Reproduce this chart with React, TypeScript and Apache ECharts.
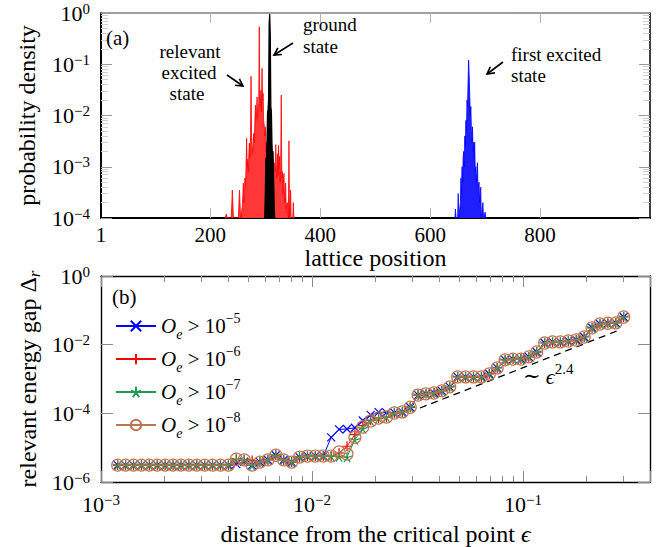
import React, { useEffect, useRef } from 'react';
import * as echarts from 'echarts';

const SERIF = "'Liberation Serif', 'DejaVu Serif', serif";

// ---------- panel (a): probability density vs lattice position ----------
const latticeLabelValues = [1, 200, 400, 600, 800];
const latticeTickValues = [200, 400, 600, 800];

const redState: [number, number][] = [
  [227, 1e-4], [229, 1.2e-4], [231, 1e-4],
  [238, 1e-4], [240, 3.5e-4], [242, 1e-4],
  [251, 1e-4], [253, 3.5e-4], [255, 1e-4],
  [258, 1.6e-4], [259, 2.5e-4], [260, 4.8e-4], [261, 2e-4], [262, 3e-4], [263, 6e-4], [264, 4e-4],
  [265, 1.2e-3], [266, 3.6e-3], [267, 1e-3], [268, 1.4e-3], [269, 8e-4], [270, 1.8e-3], [271, 2.9e-3],
  [272, 1.5e-3], [273, 3e-3], [274, 5.8e-2], [275, 4e-3], [276, 2.5e-3], [277, 1.8e-3], [278, 3e-3],
  [279, 4.5e-3], [280, 3e-3], [281, 8e-3], [282, 1.6e-2], [283, 8e-3], [284, 1.2e-2], [285, 2.3e-2],
  [286, 9e-3], [287, 1.3e-2], [288, 1.8e-2], [289, 0.54], [290, 1.5e-2], [291, 1.7e-2], [292, 3.1e-2],
  [293, 1.2e-2], [294, 8.3e-2], [295, 2e-2], [296, 2.7e-2], [297, 8e-3], [298, 6.5e-3], [299, 4e-3],
  [300, 6e-3], [301, 2e-3], [302, 3e-3], [303, 1.2e-3], [304, 2e-3], [306, 1.5e-3], [308, 2e-3],
  [310, 1e-3], [312, 1.5e-3], [314, 8e-4], [316, 1.2e-3], [318, 8e-4], [319, 2.7e-3], [320, 1e-3],
  [321, 6e-4], [322, 1.8e-3], [323, 7e-4], [324, 2.6e-3], [325, 9e-4], [326, 1.6e-3], [327, 5e-4],
  [328, 1e-3], [329, 2.5e-2], [330, 6e-4], [331, 8e-4], [332, 3e-4], [333, 6e-4], [334, 7.4e-4],
  [335, 2e-4], [336, 3e-4], [337, 4.8e-4], [338, 1.5e-4], [340, 2e-4], [342, 1e-4], [343, 3.2e-3],
  [344, 1e-4], [345, 1e-4], [346, 3.5e-4], [347, 1e-4], [350, 1e-4], [351, 2e-4], [352, 1e-4],
];

const blackState: [number, number][] = [
  [299, 1e-4], [300, 3e-4], [301, 1.5e-3], [302, 1e-3], [303, 2.5e-3], [304, 1.1e-2], [305, 1.3e-2],
  [306, 2e-2], [307, 0.6], [308, 0.95], [309, 0.35], [310, 1.5e-2], [311, 1.2e-2], [312, 3e-3],
  [313, 1.5e-3], [314, 2e-3], [315, 6e-4], [316, 2e-4], [317, 1e-4],
];

const blueState: [number, number][] = [
  [645, 1e-4], [646, 1.5e-4], [647, 1e-4], [650, 1e-4], [651, 3e-4], [652, 1e-4], [655, 2e-4],
  [656, 6e-4], [657, 3e-4], [658, 1e-3], [659, 5e-4], [660, 1.5e-3], [661, 2e-3], [662, 1e-3],
  [663, 4e-3], [664, 2.5e-3], [665, 8e-3], [666, 5e-3], [667, 2e-2], [668, 1.5e-2], [669, 5e-2],
  [670, 0.12], [671, 6e-2], [672, 2.5e-2], [673, 1e-2], [674, 1.5e-2], [675, 5e-3], [676, 3e-3],
  [677, 6e-3], [678, 2e-3], [679, 3e-3], [680, 1.5e-3], [681, 3e-3], [682, 8e-4], [683, 1e-3],
  [684, 5e-4], [686, 1.2e-3], [687, 4e-4], [689, 5e-4], [690, 2e-4], [692, 4e-4], [693, 1e-4],
  [696, 2e-4], [697, 1e-4], [700, 1.3e-4], [701, 1e-4],
];

// ---------- panel (b): relevant energy gap vs distance from critical point ----------
const epsilon = [
  0.001200, 0.001308, 0.001426, 0.001555, 0.001695, 0.001847, 0.002014, 0.002195, 0.002393, 0.002609,
  0.002844, 0.003100, 0.003379, 0.003684, 0.004016, 0.004378, 0.004772, 0.005202, 0.005671, 0.006182,
  0.006739, 0.007346, 0.008008, 0.008730, 0.009517, 0.01037, 0.01131, 0.01233, 0.01344, 0.01465,
  0.01597, 0.01741, 0.01898, 0.02069, 0.02255, 0.02458, 0.02680, 0.02921, 0.03185, 0.03472,
  0.03785, 0.04126, 0.04498, 0.04903, 0.05345, 0.05827, 0.06352, 0.06924, 0.07548, 0.08229,
  0.08970, 0.09779, 0.1066, 0.1162, 0.1267, 0.1381, 0.1505, 0.1641, 0.1789, 0.1950,
  0.2126, 0.2317, 0.2526, 0.2754, 0.3002,
];

const gapOe5 = [
  3.1e-6, 3.1e-6, 3.1e-6, 3.1e-6, 3.1e-6, 3.1e-6, 3.1e-6, 3.1e-6, 3.1e-6, 3.1e-6,
  3.1e-6, 3.1e-6, 3.1e-6, 3.1e-6, 3.1e-6, 3.3e-6, 3.9e-6, 3.1e-6, 3.8e-6, 4.4e-6,
  6.0e-6, 4.4e-6, 3.8e-6, 5.3e-6, 5.7e-6, 5.7e-6, 5.7e-6, 2.0e-5, 3.4e-5, 3.5e-5,
  3.8e-5, 6.2e-5, 9.0e-5, 1.08e-4, 1.05e-4, 1.05e-4, 1.1e-4, 1.5e-4, 3.4e-4, 3.7e-4,
  3.9e-4, 4.5e-4, 5.9e-4, 1.15e-3, 1.15e-3, 1.15e-3, 1.15e-3, 1.4e-3, 2.1e-3, 3.6e-3,
  3.8e-3, 3.8e-3, 4.4e-3, 6.1e-3, 1.12e-2, 1.2e-2, 1.2e-2, 1.28e-2, 1.37e-2, 1.67e-2,
  3.1e-2, 4.0e-2, 4.2e-2, 4.3e-2, 6.4e-2,
];
const gapOe6 = [
  3.1e-6, 3.1e-6, 3.1e-6, 3.1e-6, 3.1e-6, 3.1e-6, 3.1e-6, 3.1e-6, 3.1e-6, 3.1e-6,
  3.1e-6, 3.1e-6, 3.1e-6, 3.1e-6, 3.1e-6, 4.6e-6, 4.4e-6, 4.2e-6, 3.8e-6, 4.4e-6,
  6.0e-6, 4.4e-6, 3.8e-6, 5.3e-6, 5.7e-6, 5.7e-6, 5.7e-6, 5.7e-6, 7.0e-6, 1.1e-5,
  2.4e-5, 4.4e-5, 6.3e-5, 7.3e-5, 7.8e-5, 1.02e-4, 1.1e-4, 1.5e-4, 3.4e-4, 3.7e-4,
  3.9e-4, 4.5e-4, 5.9e-4, 1.15e-3, 1.15e-3, 1.15e-3, 1.15e-3, 1.4e-3, 2.1e-3, 3.6e-3,
  3.8e-3, 3.8e-3, 4.4e-3, 6.1e-3, 1.12e-2, 1.2e-2, 1.2e-2, 1.28e-2, 1.37e-2, 1.67e-2,
  3.1e-2, 4.0e-2, 4.2e-2, 4.3e-2, 6.4e-2,
];
const gapOe7 = [
  3.1e-6, 3.1e-6, 3.1e-6, 3.1e-6, 3.1e-6, 3.1e-6, 3.1e-6, 3.1e-6, 3.1e-6, 3.1e-6,
  3.1e-6, 3.1e-6, 3.1e-6, 3.1e-6, 3.1e-6, 4.6e-6, 4.4e-6, 3.0e-6, 3.8e-6, 4.4e-6,
  6.0e-6, 4.4e-6, 3.8e-6, 5.3e-6, 5.7e-6, 5.7e-6, 5.7e-6, 5.7e-6, 5.5e-6, 5.3e-6,
  1.7e-5, 3.6e-5, 6.0e-5, 7.3e-5, 7.8e-5, 1.02e-4, 1.1e-4, 1.5e-4, 3.4e-4, 3.7e-4,
  3.9e-4, 4.5e-4, 5.9e-4, 1.15e-3, 1.15e-3, 1.15e-3, 1.15e-3, 1.4e-3, 2.1e-3, 3.6e-3,
  3.8e-3, 3.8e-3, 4.4e-3, 6.1e-3, 1.12e-2, 1.2e-2, 1.2e-2, 1.28e-2, 1.37e-2, 1.67e-2,
  3.1e-2, 4.0e-2, 4.2e-2, 4.3e-2, 6.4e-2,
];
const gapOe8 = [
  3.1e-6, 3.1e-6, 3.1e-6, 3.1e-6, 3.1e-6, 3.1e-6, 3.1e-6, 3.1e-6, 3.1e-6, 3.1e-6,
  3.1e-6, 3.1e-6, 3.1e-6, 3.1e-6, 3.1e-6, 4.6e-6, 4.4e-6, 3.1e-6, 3.8e-6, 4.4e-6,
  6.0e-6, 4.4e-6, 3.8e-6, 5.3e-6, 5.7e-6, 5.7e-6, 5.7e-6, 5.7e-6, 7.5e-6, 6.5e-6,
  2.0e-5, 4.0e-5, 6.0e-5, 7.3e-5, 7.8e-5, 1.02e-4, 1.1e-4, 1.5e-4, 3.4e-4, 3.7e-4,
  3.9e-4, 4.5e-4, 5.9e-4, 1.15e-3, 1.15e-3, 1.15e-3, 1.15e-3, 1.4e-3, 2.1e-3, 3.6e-3,
  3.8e-3, 3.8e-3, 4.4e-3, 6.1e-3, 1.12e-2, 1.2e-2, 1.2e-2, 1.28e-2, 1.37e-2, 1.67e-2,
  3.1e-2, 4.0e-2, 4.2e-2, 4.3e-2, 6.4e-2,
];
const scalingLine: [number, number][] = [[0.0325, 1.43e-4], [0.288, 2.7e-2]];
const legendExponents: Record<string, string> = { e5: '5', e6: '6', e7: '7', e8: '8' };
const gapTickValues = [1e-6, 1e-4, 1e-2, 1];
const epsLabelValues = [1e-3, 1e-2, 1e-1];

// ---------- helpers ----------
const supLabel = (v: number) => {
  const e = Math.round(Math.log10(v));
  return `{b|10}{s|${e < 0 ? '\u2212' + -e : e}}`;
};
const tickRich = {
  b: { fontFamily: SERIF, fontSize: 22, lineHeight: 24, color: '#000' },
  s: { fontFamily: SERIF, fontSize: 15, lineHeight: 9, verticalAlign: 'top', color: '#000' },
};

const CROSS = 'path://M0,0L10,10M10,0L0,10';
const PLUS = 'path://M5,0L5,10M0,5L10,5';
const STAR = 'path://M5,5L5,0M5,5L9.755,3.455M5,5L7.939,9.045M5,5L2.061,9.045M5,5L0.245,3.455';

function arrow(x1: number, y1: number, x2: number, y2: number) {
  const ang = Math.atan2(y2 - y1, x2 - x1);
  const L = 8;
  const a = 0.5;
  const p1 = [x2 - L * Math.cos(ang - a), y2 - L * Math.sin(ang - a)];
  const p2 = [x2 - L * Math.cos(ang + a), y2 - L * Math.sin(ang + a)];
  return [
    { type: 'line', shape: { x1, y1, x2, y2 }, style: { stroke: '#000', lineWidth: 1.6 }, z: 100 },
    { type: 'polyline', shape: { points: [p1, [x2, y2], p2] }, style: { stroke: '#000', lineWidth: 1.6, fill: null }, z: 100 },
  ];
}
function txt(text: string, x: number, y: number, align = 'left', size = 19) {
  return {
    type: 'text', x, y, z: 100,
    style: { text, fontFamily: SERIF, fontSize: size, fill: '#000', align, verticalAlign: 'middle' },
  };
}

function buildOption() {
  const nameStyle = { fontFamily: SERIF, fontSize: 24, color: '#000' };
  const topY = (pos: 'left' | 'right') => ({
    gridIndex: 0, type: 'log', logBase: 10, position: pos, min: 1e-4, max: 1,
    axisLine: { show: true, onZero: false, lineStyle: { color: '#000', width: pos === 'left' ? 2 : 1.5 } },
    axisTick: { show: true, inside: true, length: 11, lineStyle: { color: '#9a9a9a', width: 1 } },
    minorTick: { show: true, splitNumber: 9, length: 7, lineStyle: { color: '#cfcfcf', width: 1 } },
    splitLine: { show: false }, minorSplitLine: { show: false },
    axisLabel: pos === 'left'
      ? { show: true, formatter: supLabel, rich: tickRich, margin: 11 }
      : { show: false },
    ...(pos === 'left' ? {
      name: 'probability density', nameLocation: 'middle', nameGap: 62, nameTextStyle: nameStyle, nameMoveOverlap: false,
    } : {}),
  });
  const topX = (pos: 'top' | 'bottom') => ({
    gridIndex: 0, type: 'value', position: pos, min: 1, max: 1000,
    axisLine: { show: true, onZero: false, lineStyle: pos === 'bottom' ? { color: '#000', width: 2 } : { color: '#808080', width: 1.5 } },
    axisTick: { show: true, inside: true, length: 10, customValues: latticeTickValues, lineStyle: { color: '#b4b4b4', width: 1 } },
    splitLine: { show: false },
    axisLabel: pos === 'bottom'
      ? { show: true, customValues: latticeLabelValues, margin: 6, fontFamily: SERIF, fontSize: 21, lineHeight: 21, color: '#000' }
      : { show: false },
    ...(pos === 'bottom' ? {
      name: 'lattice position', nameLocation: 'middle', nameGap: 29, nameTextStyle: { ...nameStyle, lineHeight: 22 }, nameMoveOverlap: false,
    } : {}),
  });
  const botX = (pos: 'top' | 'bottom') => ({
    gridIndex: 1, type: 'log', logBase: 10, position: pos, min: 0.001, max: 0.4,
    axisLine: { show: true, onZero: false, lineStyle: { color: '#000', width: 1.4 } },
    axisTick: { show: true, inside: true, length: 11, lineStyle: { color: '#8a8a8a', width: 1 } },
    minorTick: { show: true, splitNumber: 9, length: 6, lineStyle: { color: '#8a8a8a', width: 1 } },
    splitLine: { show: false }, minorSplitLine: { show: false },
    axisLabel: pos === 'bottom'
      ? { show: true, customValues: epsLabelValues, formatter: supLabel, rich: tickRich, margin: 10 }
      : { show: false },
    ...(pos === 'bottom' ? {
      name: 'distance from the critical point {it|\u03f5}', nameLocation: 'middle', nameGap: 41, nameMoveOverlap: false,
      nameTextStyle: { ...nameStyle, lineHeight: 22, rich: { it: { fontFamily: SERIF, fontSize: 24, lineHeight: 22, fontStyle: 'italic', color: '#000' } } },
    } : {}),
  });
  const botY = (pos: 'left' | 'right') => ({
    gridIndex: 1, type: 'log', logBase: 10, position: pos, min: 1e-6, max: 1,
    axisLine: { show: true, onZero: false, lineStyle: { color: '#000', width: 1.4 } },
    axisTick: { show: true, inside: true, length: 12, customValues: gapTickValues, lineStyle: { color: '#8a8a8a', width: 1 } },
    minorTick: { show: false },
    splitLine: { show: false },
    axisLabel: pos === 'left'
      ? { show: true, customValues: gapTickValues, formatter: supLabel, rich: tickRich, margin: 11 }
      : { show: false },
    ...(pos === 'left' ? {
      name: 'relevant energy gap \u0394{sub|r}', nameLocation: 'middle', nameGap: 58, nameMoveOverlap: false,
      nameTextStyle: {
        ...nameStyle, lineHeight: 30,
        rich: { sub: { fontFamily: SERIF, fontSize: 17, fontStyle: 'italic', lineHeight: 18, verticalAlign: 'bottom', color: '#000' } },
      },
    } : {}),
  });

  const histo = (name: string, data: [number, number][], line: string, fill: string, w: number, z: number) => ({
    name, type: 'line', xAxisIndex: 0, yAxisIndex: 0, data, symbol: 'none', showSymbol: false,
    lineStyle: { color: line, width: w }, areaStyle: { color: fill, opacity: 1, origin: 'start' },
    z, silent: true,
  });
  const gapSeries = (name: string, vals: number[], color: string, symbol: string, size: number, z: number) => ({
    name, type: 'line', xAxisIndex: 2, yAxisIndex: 2,
    data: epsilon.map((x, i) => [x, vals[i]]),
    symbol, symbolSize: size, showSymbol: true,
    lineStyle: { color, width: 1 },
    itemStyle: { color: symbol === 'circle' ? 'rgba(0,0,0,0)' : color, borderColor: color, borderWidth: 1.2 },
    z,
  });

  const legendRich = {
    i: { fontFamily: SERIF, fontSize: 21, fontStyle: 'italic', color: '#000', lineHeight: 30 },
    sb: { fontFamily: SERIF, fontSize: 14, fontStyle: 'italic', color: '#000', lineHeight: 18, verticalAlign: 'bottom' },
    t: { fontFamily: SERIF, fontSize: 21, color: '#000', lineHeight: 30 },
    sp: { fontFamily: SERIF, fontSize: 14, color: '#000', lineHeight: 14, verticalAlign: 'top' },
  };

  return {
    animation: false,
    backgroundColor: '#fff',
    textStyle: { fontFamily: SERIF },
    grid: [
      { left: 101, top: 13, width: 549, height: 205, show: false, containLabel: false, outerBoundsMode: 'none' },
      { left: 101, top: 276, width: 549, height: 206, show: false, containLabel: false, outerBoundsMode: 'none' },
    ],
    xAxis: [topX('bottom'), topX('top'), botX('bottom'), botX('top')],
    yAxis: [topY('left'), topY('right'), botY('left'), botY('right')],
    legend: {
      data: ['e5', 'e6', 'e7', 'e8'],
      orient: 'vertical', left: 115, top: 311, padding: 0,
      itemWidth: 40, itemHeight: 13, itemGap: 3,
      selectedMode: false,
      formatter: (name: string) => `{i|O}{sb|e}{t| > 10}{sp|\u2212${legendExponents[name]}}`,
      textStyle: { fontFamily: SERIF, fontSize: 21, color: '#000', lineHeight: 30, rich: legendRich },
    },
    series: [
      histo('relevant', redState, '#ff0000', 'rgb(255,55,55)', 0.8, 2),
      histo('ground', blackState, '#000000', '#000000', 1.3, 3),
      histo('first', blueState, '#0000ff', 'rgb(30,30,255)', 0.8, 2),
      {
        name: 'scaling', type: 'line', xAxisIndex: 2, yAxisIndex: 2, data: scalingLine, symbol: 'none',
        lineStyle: { color: '#000', width: 1.3, type: [7, 5] }, z: 2, silent: true,
      },
      gapSeries('e5', gapOe5, '#0000ff', CROSS, 8, 3),
      gapSeries('e6', gapOe6, '#ff0000', PLUS, 10, 4),
      gapSeries('e7', gapOe7, '#1f9a52', STAR, 10, 5),
      gapSeries('e8', gapOe8, '#bd7450', 'circle', 12, 6),
    ],
    graphic: [
      txt('(a)', 106, 38, 'left', 21),
      txt('relevant', 190, 51, 'center'),
      txt('excited', 189, 72, 'center'),
      txt('state', 187, 93, 'center'),
      ...arrow(227, 75, 243, 86),
      txt('ground', 303, 24, 'left'),
      txt('state', 303, 46, 'left'),
      ...arrow(293, 43, 274, 55),
      txt('first excited', 511, 54, 'left'),
      txt('state', 511, 75, 'left'),
      ...arrow(503, 62, 487, 74),
      txt('(b)', 112, 297, 'left', 21),
      {
        type: 'text', x: 523, y: 376, z: 100,
        style: {
          text: '{a|\u223c }{e|\u03f5}{s|2.4}', verticalAlign: 'middle', align: 'left',
          rich: {
            a: { fontFamily: SERIF, fontSize: 21, fill: '#000', lineHeight: 30 },
            e: { fontFamily: SERIF, fontSize: 22, fontStyle: 'italic', fill: '#000', lineHeight: 30 },
            s: { fontFamily: SERIF, fontSize: 15, fill: '#000', lineHeight: 14, verticalAlign: 'top' },
          },
        },
      },
    ],
  };
}

export default function App() {
  const ref = useRef<HTMLDivElement>(null);
  useEffect(() => {
    document.body.style.margin = '0';
    const chart = echarts.init(ref.current as HTMLDivElement, null, { renderer: 'svg' });
    chart.setOption(buildOption() as any);
    return () => chart.dispose();
  }, []);
  return <div ref={ref} style={{ width: 669, height: 547, background: '#fff' }} />;
}
